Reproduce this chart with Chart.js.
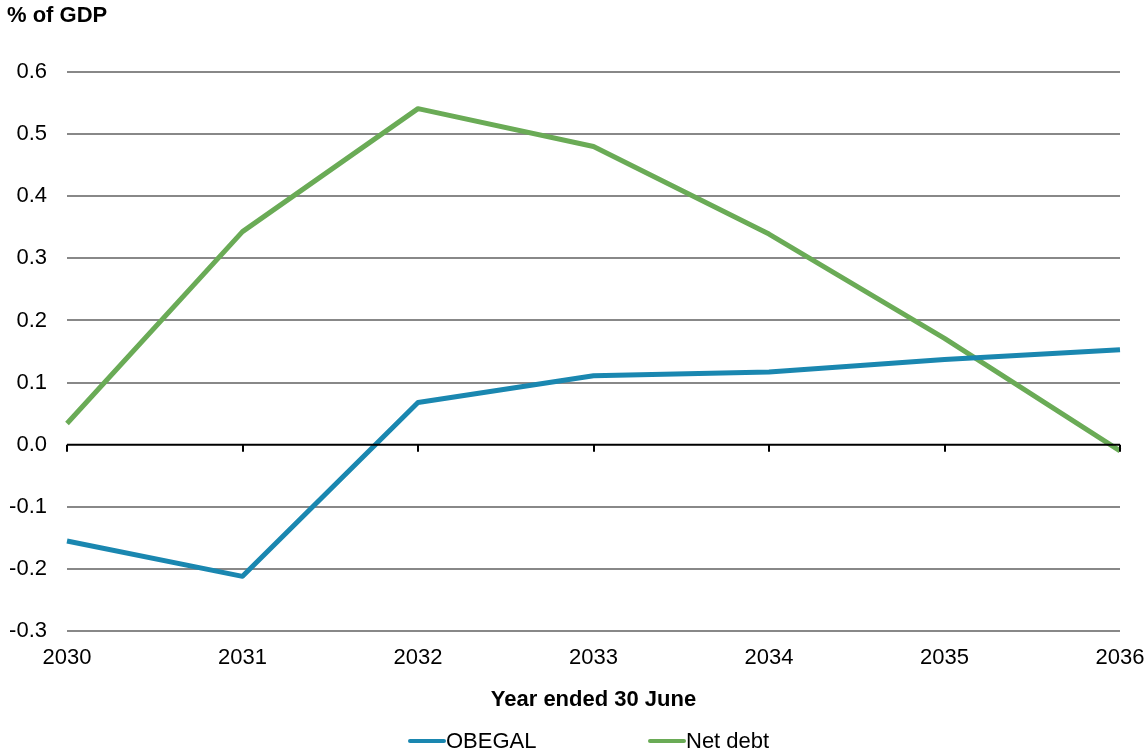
<!DOCTYPE html>
<html>
<head>
<meta charset="utf-8">
<script src="https://cdn.jsdelivr.net/npm/chart.js@4/dist/chart.umd.min.js"></script>
<style>
  html, body { margin: 0; padding: 0; background: #fff; }
  #wrap { width: 1146px; height: 756px; position: relative; }
</style>
</head>
<body>
<div id="wrap"><canvas id="c" width="1146" height="756"></canvas></div>
<script>
const years = ['2030', '2031', '2032', '2033', '2034', '2035', '2036'];
const obegal = [-0.155, -0.212, 0.068, 0.111, 0.117, 0.137, 0.153];
const netDebt = [0.034, 0.343, 0.541, 0.480, 0.339, 0.171, -0.010];
const seriesNames = ['OBEGAL', 'Net debt'];
const seriesColors = ['#1A87B0', '#6AAB56'];
const yAxisUnit = '% of GDP';
const xAxisTitle = 'Year ended 30 June';

const FONT = '"Liberation Sans", Arial, sans-serif';
const FONT_SIZE = 22;

// Black zero line with short downward tick marks at each year
const zeroLine = {
  id: 'zeroLine',
  afterDatasetsDraw(chart) {
    const { ctx, scales: { x, y }, chartArea } = chart;
    const y0 = y.getPixelForValue(0);
    ctx.save();
    ctx.strokeStyle = '#000';
    ctx.lineWidth = 2;
    ctx.beginPath();
    ctx.moveTo(chartArea.left, y0);
    ctx.lineTo(chartArea.right, y0);
    years.forEach((_, i) => {
      const px = Math.round(x.getPixelForValue(i));
      ctx.moveTo(px, y0);
      ctx.lineTo(px, y0 + 7);
    });
    ctx.stroke();
    ctx.restore();
  }
};

// Unit label above the value axis and the legend row under the axis title
const labelsPlugin = {
  id: 'labelsPlugin',
  afterDraw(chart) {
    const { ctx } = chart;
    ctx.save();
    ctx.fillStyle = '#000';
    ctx.textBaseline = 'middle';
    ctx.textAlign = 'left';
    ctx.font = 'bold ' + FONT_SIZE + 'px ' + FONT;
    ctx.fillText(yAxisUnit, 7, 16);

    ctx.font = FONT_SIZE + 'px ' + FONT;
    const starts = [410, 650];
    const ly = 741;
    chart.data.datasets.forEach((ds, i) => {
      const sx = starts[i];
      ctx.strokeStyle = ds.borderColor;
      ctx.lineWidth = 4;
      ctx.lineCap = 'round';
      ctx.beginPath();
      ctx.moveTo(sx, ly);
      ctx.lineTo(sx + 34, ly);
      ctx.stroke();
      ctx.fillStyle = '#000';
      ctx.fillText(ds.label, sx + 36, ly + 1);
    });
    ctx.restore();
  }
};

new Chart(document.getElementById('c'), {
  type: 'line',
  data: {
    labels: years,
    datasets: [
      { label: seriesNames[0], data: obegal, borderColor: seriesColors[0], backgroundColor: seriesColors[0] },
      { label: seriesNames[1], data: netDebt, borderColor: seriesColors[1], backgroundColor: seriesColors[1] }
    ]
  },
  options: {
    responsive: false,
    animation: false,
    devicePixelRatio: 1,
    layout: { padding: { left: 0, right: 26, top: 72, bottom: 40 } },
    elements: {
      line: { borderWidth: 5, tension: 0, borderJoinStyle: 'round', borderCapStyle: 'butt' },
      point: { radius: 0, hoverRadius: 0 }
    },
    plugins: {
      legend: { display: false },
      tooltip: { enabled: false },
      title: { display: false }
    },
    scales: {
      x: {
        type: 'category',
        offset: false,
        grid: { display: false, drawTicks: false },
        border: { display: false },
        ticks: {
          color: '#000',
          font: { family: FONT, size: FONT_SIZE },
          padding: 14,
          maxRotation: 0,
          autoSkip: false
        },
        title: {
          display: true,
          text: xAxisTitle,
          color: '#000',
          font: { family: FONT, size: FONT_SIZE, weight: 'bold' },
          padding: { top: 0, bottom: 3 }
        },
        afterFit(scale) {
          scale.height = 85;
          scale.paddingLeft = 0;
          scale.paddingRight = 0;
        }
      },
      y: {
        min: -0.3,
        max: 0.6,
        grid: {
          drawTicks: false,
          lineWidth: 2,
          color: (c) => (c.tick && Math.abs(c.tick.value) < 1e-9) ? 'rgba(0,0,0,0)' : '#888888'
        },
        border: { display: false },
        ticks: {
          stepSize: 0.1,
          color: '#000',
          font: { family: FONT, size: FONT_SIZE },
          padding: 20,
          callback: (v) => Number(v).toFixed(1)
        },
        afterFit(scale) {
          scale.width = 67;
          scale.paddingTop = 0;
          scale.paddingBottom = 0;
        }
      }
    }
  },
  plugins: [zeroLine, labelsPlugin]
});
</script>
</body>
</html>
